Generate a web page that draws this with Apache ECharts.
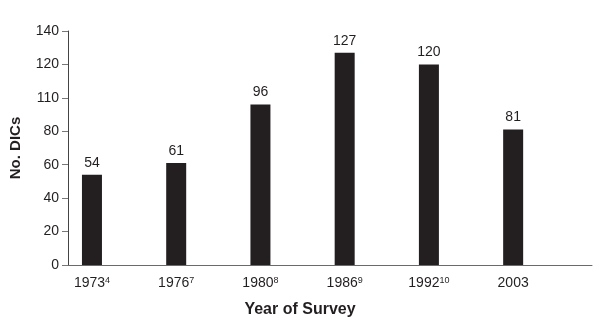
<!DOCTYPE html>
<html>
<head>
<meta charset="utf-8">
<script src="https://cdn.jsdelivr.net/npm/echarts@6/dist/echarts.min.js"></script>
<style>html,body{margin:0;padding:0;background:#fff}#c{width:600px;height:335px}</style>
</head>
<body>
<div id="c"></div>
<script>
var years = ['1973', '1976', '1980', '1986', '1992', '2003'];
var refs = ['4', '7', '8', '9', '10', ''];
var values = [54, 61, 96, 127, 120, 81];
var yTickValues = [0, 20, 40, 60, 80, 100, 120, 140];
var yTickLabels = ['0', '20', '40', '60', '80', '110', '120', '140'];

var chart = echarts.init(document.getElementById('c'), null, {renderer: 'canvas'});
var font = '"Liberation Sans", Arial, sans-serif';
var dark = '#231f20';

chart.setOption({
  animation: false,
  textStyle: {fontFamily: font},
  grid: {left: 67, right: 8, top: 31, bottom: 70},
  xAxis: {
    type: 'value',
    min: -0.2844,
    max: 5.936,
    splitLine: {show: false},
    axisLine: {show: true, onZero: false, lineStyle: {color: '#6a6a6a', width: 1}},
    axisTick: {show: false},
    axisLabel: {
      customValues: [0, 1, 2, 3, 4, 5],
      margin: 11,
      formatter: function (v) {
        var i = Math.round(v);
        return '{y|' + years[i] + '}' + (refs[i] ? '{s|' + refs[i] + '}' : '');
      },
      rich: {
        y: {fontSize: 14, color: dark, fontFamily: font},
        s: {fontSize: 9, color: dark, fontFamily: font, verticalAlign: 'top', padding: [0, 0, 3, 0]}
      }
    }
  },
  yAxis: {
    type: 'value',
    min: 0,
    max: 140,
    interval: 20,
    name: 'No. DICs',
    nameLocation: 'middle',
    nameGap: 45,
    nameTextStyle: {fontSize: 15, fontWeight: 'bold', color: dark, fontFamily: font},
    splitLine: {show: false},
    axisLine: {show: true, onZero: false, lineStyle: {color: '#444', width: 1}},
    axisTick: {show: true, length: 6, lineStyle: {color: '#777'}},
    axisLabel: {
      fontSize: 14,
      color: dark,
      margin: 9,
      formatter: function (v) {
        var k = yTickValues.indexOf(v);
        return k >= 0 ? yTickLabels[k] : '';
      }
    }
  },
  graphic: [{
    type: 'text',
    left: 'center',
    top: 302,
    style: {text: 'Year of Survey', x: 0, fontSize: 16, fontWeight: 'bold', fill: dark, fontFamily: font}
  }],
  series: [{
    type: 'bar',
    data: values.map(function (v, i) { return [i, v]; }),
    barWidth: 20,
    itemStyle: {color: dark},
    label: {show: true, position: 'top', distance: 5, fontSize: 14, color: dark, fontFamily: font,
      formatter: function (p) { return p.value[1]; }}
  }]
});
</script>
</body>
</html>
